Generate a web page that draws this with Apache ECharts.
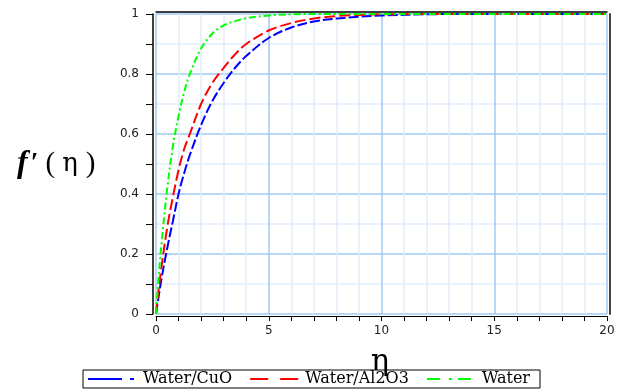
<!DOCTYPE html>
<html>
<head>
<meta charset="utf-8">
<script src="https://cdn.jsdelivr.net/npm/echarts@6/dist/echarts.min.js"></script>
<style>
  html, body { margin: 0; padding: 0; background: #ffffff; }
  #chart { width: 618px; height: 392px; }
</style>
</head>
<body>
<div id="chart"></div>
<script>
// Similarity variable eta and velocity profiles f'(eta)
const etaValues   = [0, 0.1, 0.25, 0.5, 0.75, 1, 1.25, 1.5, 2, 2.5, 3, 3.5, 4, 5, 6, 7, 8, 9, 10, 12, 14, 16, 18, 20];
const cuoValues   = [0, 0.05, 0.12, 0.22, 0.31, 0.40, 0.47, 0.53, 0.63, 0.71, 0.77, 0.82, 0.86, 0.92, 0.955, 0.975, 0.985, 0.991, 0.995, 0.999, 1, 1, 1, 1];
const al2o3Values = [0, 0.07, 0.16, 0.29, 0.39, 0.48, 0.55, 0.60, 0.70, 0.77, 0.82, 0.865, 0.90, 0.945, 0.97, 0.985, 0.993, 0.997, 0.999, 1, 1, 1, 1, 1];
const waterValues = [0, 0.11, 0.24, 0.42, 0.56, 0.66, 0.74, 0.80, 0.885, 0.935, 0.962, 0.976, 0.986, 0.995, 0.999, 1, 1, 1, 1, 1, 1, 1, 1, 1];

const seriesNames = ['Water/CuO', 'Water/Al2O3', 'Water'];
const seriesColors = ['#0000ff', '#ff0000', '#00ff00'];
const seriesDash = [[10, 3], [11, 4], [7, 3, 2, 3]];
const legendDash = [[34, 8, 4, 8], [18, 12], [13, 9, 3, 6]];
const seriesValues = [cuoValues, al2o3Values, waterValues];

const xRange = [0, 20];
const yRange = [0, 1];

const majorGrid = '#9fcaf3';
const minorGrid = '#dfeefc';
const tickFont = { fontFamily: 'DejaVu Sans', fontSize: 12, color: '#222' };

const chart = echarts.init(document.getElementById('chart'), null, { renderer: 'canvas' });

const series = seriesNames.map((name, i) => ({
  name: name,
  type: 'line',
  xAxisIndex: 0,
  yAxisIndex: 0,
  smooth: 0.35,
  symbol: 'none',
  animation: false,
  lineStyle: { color: seriesColors[i], width: 2, type: seriesDash[i] },
  itemStyle: { color: seriesColors[i] },
  data: etaValues.map((x, k) => [x, seriesValues[i][k]])
}));

chart.setOption({
  animation: false,
  backgroundColor: '#ffffff',
  title: [
    {
      left: 12, top: 143,
      text: "{f|f}{p|′}{q|(}{e|η}{q|)}",
      textStyle: {
        fontWeight: 'normal',
        rich: {
          f: { fontFamily: 'Liberation Serif', fontStyle: 'italic', fontWeight: 'bold', fontSize: 32, color: '#000' },
          p: { fontFamily: 'Liberation Serif', fontWeight: 'bold', fontSize: 28, color: '#000', padding: [0, 7, 0, 3] },
          q: { fontFamily: 'Liberation Serif', fontWeight: 'normal', fontSize: 29, color: '#000' },
          e: { fontFamily: 'DejaVu Serif', fontWeight: 'normal', fontSize: 26, color: '#000', padding: [0, 8, 0, 7] }
        }
      }
    },
    {
      left: 366, top: 342,
      text: 'η',
      textStyle: { fontFamily: 'DejaVu Serif', fontSize: 30, fontWeight: 'normal', color: '#000' }
    }
  ],
  legend: {
    left: 83, top: 370,
    padding: [1, 10, 1, 4],
    itemWidth: 50, itemHeight: 14, itemGap: 17,
    borderColor: '#000', borderWidth: 1,
    textStyle: { fontFamily: 'DejaVu Serif', fontSize: 16, color: '#000' },
    data: seriesNames.map((n, i) => ({
      name: n,
      itemStyle: { opacity: 0 },
      lineStyle: { color: seriesColors[i], width: 2, type: legendDash[i] }
    }))
  },
  grid: { left: 156, top: 14, width: 451, height: 300, containLabel: false },
  xAxis: [
    {
      type: 'value', position: 'bottom', offset: 2,
      min: xRange[0], max: xRange[1], interval: 5,
      axisLine: { show: true, onZero: false, lineStyle: { color: '#000', width: 1 } },
      axisTick: { show: true, inside: false, length: 5, lineStyle: { color: '#000' } },
      minorTick: { show: true, splitNumber: 5, length: 5, lineStyle: { color: '#000' } },
      axisLabel: Object.assign({ margin: 9 }, tickFont),
      splitLine: { show: true, lineStyle: { color: majorGrid, width: 1.5 } },
      minorSplitLine: { show: true, lineStyle: { color: minorGrid, width: 1.5 } }
    },
    {
      type: 'value', position: 'top', offset: 2,
      min: xRange[0], max: xRange[1],
      axisLine: { show: true, onZero: false, lineStyle: { color: '#000', width: 1.5 } },
      axisTick: { show: false }, axisLabel: { show: false }, splitLine: { show: false }
    }
  ],
  yAxis: [
    {
      type: 'value', position: 'left', offset: 3,
      min: yRange[0], max: yRange[1], interval: 0.2,
      axisLine: { show: true, onZero: false, lineStyle: { color: '#000', width: 1.5 } },
      axisTick: { show: true, inside: false, length: 7, lineStyle: { color: '#000' } },
      minorTick: { show: true, splitNumber: 2, length: 7, lineStyle: { color: '#000' } },
      axisLabel: Object.assign({ margin: 14 }, tickFont),
      splitLine: { show: true, lineStyle: { color: majorGrid, width: 1.5 } },
      minorSplitLine: { show: true, lineStyle: { color: minorGrid, width: 1.5 } }
    },
    {
      type: 'value', position: 'right', offset: 3,
      min: yRange[0], max: yRange[1],
      axisLine: { show: true, onZero: false, lineStyle: { color: '#444', width: 2 } },
      axisTick: { show: false }, axisLabel: { show: false }, splitLine: { show: false }
    }
  ],
  series: series
});
</script>
</body>
</html>
